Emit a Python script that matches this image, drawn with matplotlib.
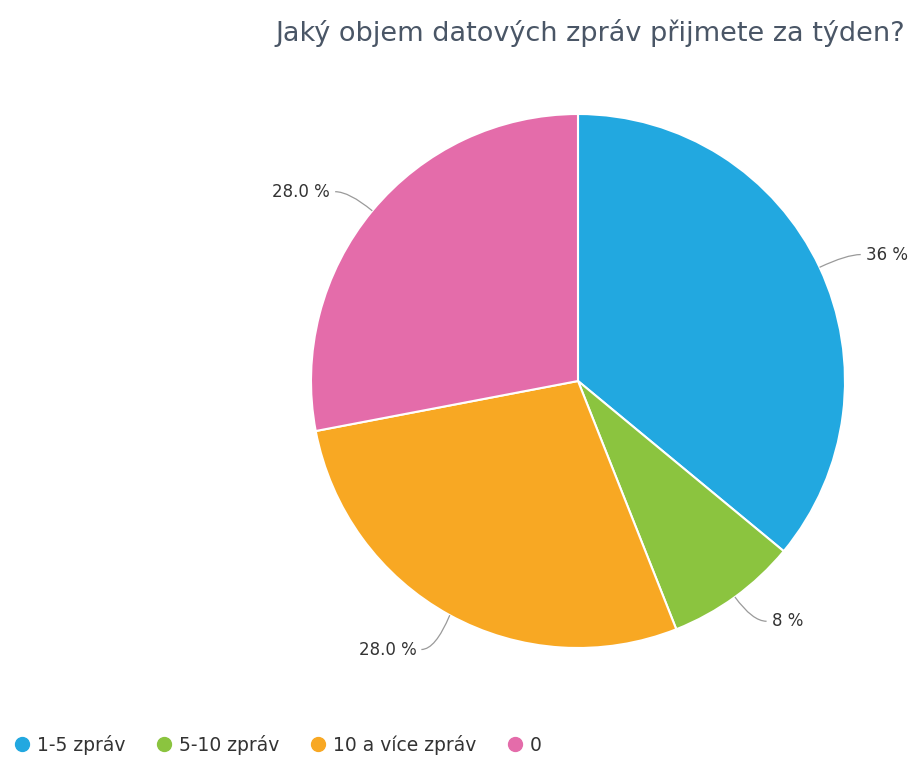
import matplotlib.pyplot as plt
from matplotlib.lines import Line2D
from matplotlib.path import Path
from matplotlib.patches import PathPatch
import numpy as np

plt.rcParams['font.family'] = ['DejaVu Sans']

# data
categories = ['1-5 zpráv', '5-10 zpráv', '10 a více zpráv', '0']
values = [36, 8, 28, 28]
value_labels = ['36 %', '8 %', '28.0 %', '28.0 %']
colors = ['#22a8e0', '#8bc43f', '#f8a823', '#e46caa']
title = 'Jaký objem datových zpráv přijmete za týden?'

W, H = 919, 758
fig = plt.figure(figsize=(W / 100, H / 100), dpi=100)
ax = fig.add_axes([0, 0, 1, 1])

cx, cy, R = 578, H - 381, 267
wedges, _ = ax.pie(values, colors=colors, startangle=90, counterclock=False,
                   center=(cx, cy), radius=R, frame=True,
                   wedgeprops=dict(edgecolor='white', linewidth=1.5))
ax.set_xlim(0, W)
ax.set_ylim(0, H)
ax.set_aspect('equal')
ax.axis('off')

# connector angles (clockwise from top) and label side
conn_angle = [64.8, 144.0, 208.7, 309.6]
side = [1, 1, -1, -1]
for w, ang, s, lab in zip(wedges, conn_angle, side, value_labels):
    a = np.deg2rad(ang)
    sx, sy = cx + R * np.sin(a), cy + R * np.cos(a)
    mx, my = cx + (R + 30) * np.sin(a), cy + (R + 30) * np.cos(a)
    if 180 < ang < 270:
        my = my - 8
    ex, ey = mx + s * 14, my
    path = Path([(sx, sy), (mx, my), (ex, ey)],
                [Path.MOVETO, Path.CURVE3, Path.CURVE3])
    ax.add_patch(PathPatch(path, facecolor='none', edgecolor='#9a9a9a', lw=0.9))
    ax.text(ex + s * 5, ey, lab, ha='left' if s > 0 else 'right', va='center',
            fontsize=12, color='#333333')

fig.text(590 / W, 1 - 33 / H, title, ha='center', va='center',
         fontsize=19.5, color='#4a5666')

handles = [Line2D([0], [0], marker='o', linestyle='none', markersize=10,
                  markerfacecolor=c, markeredgecolor=c) for c in colors]
fig.legend(handles, categories, loc='center left', bbox_to_anchor=(0.017, 1 - 745 / H),
           ncol=4, frameon=False, fontsize=13.5, handlelength=0.7,
           handletextpad=0.45, columnspacing=1.7, labelcolor='#333333',
           borderaxespad=0, borderpad=0)

fig.savefig('out.png', dpi=100, facecolor='white')
